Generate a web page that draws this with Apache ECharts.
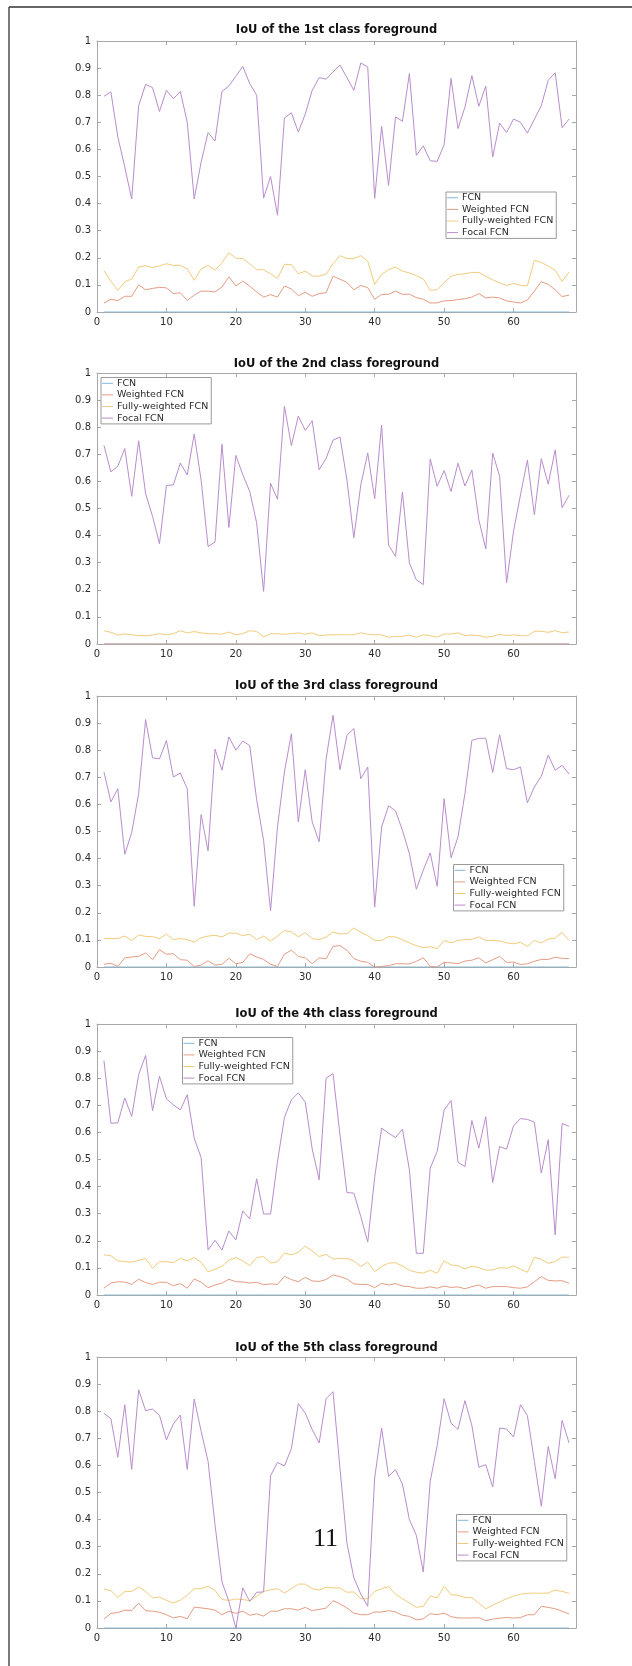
<!DOCTYPE html>
<html>
<head>
<meta charset="utf-8">
<script src="https://cdn.jsdelivr.net/npm/echarts@6/dist/echarts.min.js"></script>
<style>
html,body{margin:0;padding:0;background:#fff;}
#chart{width:632px;height:1666px;}
</style>
</head>
<body>
<div id="chart"></div>
<script>
// image index (x values)
const imageIdx = [1,2,3,4,5,6,7,8,9,10,11,12,13,14,15,16,17,18,19,20,21,22,23,24,25,26,27,28,29,30,31,32,33,34,35,36,37,38,39,40,41,42,43,44,45,46,47,48,49,50,51,52,53,54,55,56,57,58,59,60,61,62,63,64,65,66,67,68];
const seriesNames = ['FCN','Weighted FCN','Fully-weighted FCN','Focal FCN'];
const panelTitles = ['IoU of the 1st class foreground','IoU of the 2nd class foreground','IoU of the 3rd class foreground','IoU of the 4th class foreground','IoU of the 5th class foreground'];
const xTicks = [0,10,20,30,40,50,60];
const yTicks = [0,0.1,0.2,0.3,0.4,0.5,0.6,0.7,0.8,0.9,1];
const pageNumber = '11';

// FCN is zero in every panel
const fcnAll = [0,0,0,0,0,0,0,0,0,0,0,0,0,0,0,0,0,0,0,0,0,0,0,0,0,0,0,0,0,0,0,0,0,0,0,0,0,0,0,0,0,0,0,0,0,0,0,0,0,0,0,0,0,0,0,0,0,0,0,0,0,0,0,0,0,0,0,0];

// Panel 1
const weighted1 = [0.033,0.047,0.042,0.058,0.058,0.10,0.082,0.087,0.091,0.089,0.068,0.071,0.043,0.062,0.077,0.077,0.074,0.092,0.13,0.096,0.114,0.095,0.074,0.055,0.064,0.055,0.096,0.085,0.06,0.073,0.058,0.068,0.071,0.132,0.121,0.109,0.082,0.098,0.09,0.047,0.065,0.065,0.077,0.065,0.066,0.053,0.047,0.033,0.034,0.041,0.042,0.046,0.049,0.055,0.068,0.052,0.055,0.052,0.041,0.037,0.033,0.044,0.077,0.112,0.102,0.082,0.057,0.062];
const fully1 = [0.153,0.114,0.08,0.111,0.122,0.166,0.171,0.164,0.17,0.178,0.172,0.172,0.159,0.117,0.159,0.172,0.154,0.182,0.218,0.199,0.197,0.178,0.156,0.156,0.141,0.124,0.176,0.175,0.141,0.151,0.133,0.132,0.14,0.178,0.208,0.197,0.197,0.208,0.187,0.102,0.139,0.156,0.166,0.151,0.144,0.134,0.122,0.08,0.082,0.108,0.132,0.139,0.141,0.146,0.146,0.132,0.119,0.107,0.098,0.105,0.098,0.097,0.191,0.183,0.169,0.154,0.113,0.148];
const focal1 = [0.796,0.812,0.646,0.535,0.417,0.761,0.84,0.828,0.74,0.818,0.787,0.814,0.70,0.417,0.553,0.662,0.631,0.814,0.834,0.87,0.906,0.843,0.80,0.42,0.50,0.357,0.716,0.735,0.664,0.73,0.818,0.865,0.859,0.886,0.911,0.865,0.818,0.919,0.904,0.419,0.685,0.467,0.72,0.704,0.88,0.578,0.613,0.558,0.556,0.617,0.862,0.677,0.756,0.872,0.759,0.834,0.572,0.697,0.662,0.712,0.70,0.66,0.711,0.761,0.855,0.883,0.68,0.712];

// Panel 2
const weighted2 = [0,0,0,0,0,0,0,0,0,0,0,0,0,0,0,0,0,0,0,0,0,0,0,0,0,0,0,0,0,0,0,0,0,0,0,0,0,0,0,0,0,0,0,0,0,0,0,0,0,0,0,0,0,0,0,0,0,0,0,0,0,0,0,0,0,0,0,0];
const fully2 = [0.049,0.043,0.033,0.037,0.034,0.031,0.031,0.033,0.038,0.034,0.038,0.049,0.041,0.046,0.041,0.038,0.038,0.036,0.044,0.034,0.038,0.049,0.046,0.026,0.038,0.038,0.036,0.038,0.041,0.036,0.041,0.031,0.033,0.034,0.034,0.034,0.034,0.041,0.036,0.034,0.034,0.025,0.028,0.028,0.033,0.025,0.034,0.031,0.025,0.037,0.037,0.041,0.031,0.033,0.031,0.025,0.028,0.036,0.031,0.034,0.031,0.03,0.047,0.047,0.043,0.049,0.042,0.044];
const focal2 = [0.733,0.635,0.656,0.721,0.545,0.75,0.555,0.471,0.37,0.585,0.587,0.668,0.624,0.775,0.604,0.36,0.376,0.737,0.43,0.696,0.625,0.563,0.447,0.194,0.593,0.534,0.877,0.732,0.841,0.788,0.824,0.643,0.685,0.752,0.764,0.606,0.392,0.587,0.705,0.536,0.808,0.365,0.323,0.561,0.299,0.237,0.219,0.683,0.582,0.64,0.563,0.667,0.583,0.642,0.459,0.351,0.704,0.619,0.225,0.416,0.55,0.678,0.477,0.684,0.59,0.716,0.503,0.549];

// Panel 3
const weighted3 = [0.01,0.014,0.002,0.034,0.037,0.039,0.052,0.027,0.064,0.047,0.049,0.027,0.025,0.002,0.007,0.023,0.007,0.01,0.032,0.012,0.017,0.049,0.037,0.028,0.01,0.002,0.047,0.062,0.039,0.034,0.012,0.034,0.03,0.076,0.079,0.062,0.031,0.021,0.017,0.0,0.002,0.005,0.012,0.012,0.011,0.021,0.034,0.002,0.0,0.017,0.015,0.012,0.022,0.025,0.034,0.015,0.027,0.039,0.017,0.018,0.009,0.012,0.021,0.028,0.028,0.036,0.032,0.031];
const fully3 = [0.105,0.105,0.105,0.114,0.098,0.118,0.113,0.112,0.105,0.121,0.101,0.105,0.101,0.092,0.108,0.114,0.117,0.111,0.125,0.125,0.116,0.121,0.101,0.114,0.096,0.114,0.135,0.129,0.111,0.127,0.105,0.101,0.111,0.129,0.122,0.123,0.144,0.128,0.116,0.098,0.098,0.112,0.111,0.101,0.089,0.079,0.071,0.075,0.068,0.098,0.089,0.098,0.101,0.102,0.111,0.098,0.098,0.096,0.089,0.086,0.091,0.076,0.098,0.089,0.103,0.107,0.128,0.098];
const focal3 = [0.72,0.609,0.658,0.416,0.496,0.64,0.913,0.772,0.768,0.836,0.701,0.716,0.658,0.224,0.562,0.428,0.804,0.726,0.849,0.80,0.834,0.817,0.617,0.467,0.207,0.517,0.72,0.861,0.535,0.728,0.535,0.462,0.767,0.929,0.728,0.855,0.88,0.695,0.738,0.221,0.517,0.595,0.576,0.504,0.418,0.287,0.357,0.421,0.298,0.621,0.403,0.48,0.64,0.836,0.844,0.844,0.718,0.857,0.732,0.728,0.738,0.606,0.664,0.704,0.782,0.726,0.744,0.712];

// Panel 4
const weighted4 = [0.025,0.044,0.049,0.048,0.039,0.058,0.046,0.039,0.047,0.047,0.034,0.042,0.025,0.059,0.047,0.027,0.037,0.044,0.058,0.049,0.048,0.044,0.047,0.038,0.041,0.039,0.069,0.057,0.049,0.065,0.052,0.05,0.057,0.074,0.068,0.059,0.041,0.039,0.039,0.027,0.043,0.037,0.042,0.033,0.031,0.025,0.025,0.03,0.025,0.033,0.028,0.03,0.023,0.031,0.037,0.025,0.031,0.031,0.031,0.027,0.025,0.03,0.049,0.068,0.054,0.052,0.053,0.043];
const fully4 = [0.148,0.145,0.126,0.123,0.121,0.128,0.135,0.099,0.123,0.123,0.119,0.135,0.126,0.138,0.121,0.086,0.095,0.106,0.128,0.138,0.126,0.108,0.138,0.142,0.118,0.123,0.155,0.148,0.158,0.18,0.163,0.142,0.15,0.133,0.135,0.135,0.126,0.105,0.121,0.086,0.105,0.118,0.119,0.107,0.091,0.084,0.081,0.091,0.08,0.126,0.111,0.108,0.096,0.106,0.101,0.092,0.092,0.101,0.099,0.107,0.095,0.084,0.139,0.132,0.117,0.123,0.14,0.139];
const focal4 = [0.865,0.634,0.635,0.727,0.659,0.813,0.884,0.68,0.807,0.724,0.702,0.683,0.739,0.579,0.507,0.166,0.202,0.166,0.236,0.203,0.31,0.281,0.429,0.299,0.299,0.493,0.655,0.72,0.746,0.712,0.539,0.425,0.80,0.817,0.591,0.378,0.376,0.289,0.195,0.434,0.616,0.597,0.581,0.612,0.462,0.154,0.154,0.468,0.53,0.682,0.718,0.49,0.474,0.644,0.542,0.658,0.415,0.548,0.538,0.624,0.651,0.648,0.638,0.45,0.573,0.222,0.633,0.622];

// Panel 5
const weighted5 = [0.033,0.054,0.057,0.066,0.064,0.092,0.064,0.062,0.058,0.049,0.037,0.043,0.034,0.077,0.074,0.071,0.066,0.049,0.062,0.054,0.062,0.047,0.052,0.044,0.062,0.062,0.071,0.071,0.066,0.076,0.064,0.069,0.073,0.101,0.089,0.074,0.055,0.049,0.049,0.059,0.059,0.064,0.059,0.047,0.043,0.03,0.034,0.053,0.049,0.055,0.042,0.037,0.037,0.037,0.038,0.027,0.033,0.036,0.039,0.037,0.038,0.049,0.049,0.08,0.076,0.071,0.062,0.052];
const fully5 = [0.144,0.138,0.113,0.135,0.135,0.151,0.135,0.111,0.114,0.102,0.092,0.103,0.121,0.145,0.145,0.154,0.138,0.105,0.102,0.107,0.105,0.101,0.117,0.135,0.141,0.145,0.129,0.145,0.162,0.162,0.145,0.14,0.15,0.148,0.148,0.132,0.133,0.108,0.108,0.135,0.145,0.153,0.125,0.108,0.092,0.076,0.08,0.118,0.111,0.154,0.123,0.121,0.113,0.111,0.092,0.071,0.084,0.096,0.108,0.117,0.125,0.128,0.129,0.128,0.129,0.14,0.135,0.128];
const focal5 = [0.792,0.772,0.63,0.824,0.585,0.879,0.802,0.808,0.785,0.694,0.753,0.786,0.585,0.845,0.726,0.615,0.381,0.17,0.098,0.0,0.148,0.098,0.132,0.133,0.562,0.611,0.598,0.662,0.828,0.793,0.732,0.683,0.846,0.872,0.59,0.314,0.185,0.125,0.08,0.554,0.738,0.56,0.584,0.531,0.40,0.342,0.207,0.541,0.673,0.846,0.756,0.733,0.839,0.747,0.593,0.603,0.52,0.738,0.734,0.705,0.824,0.784,0.615,0.449,0.67,0.551,0.766,0.683];

const panels = [
  [fcnAll, weighted1, fully1, focal1],
  [fcnAll, weighted2, fully2, focal2],
  [fcnAll, weighted3, fully3, focal3],
  [fcnAll, weighted4, fully4, focal4],
  [fcnAll, weighted5, fully5, focal5]
];

// Layout
const seriesColors = ['#7fb9da', '#e49c84', '#f1cc7c', '#b98dcc'];
const gridLeft = 97, gridWidth = 479, gridHeight = 271;
const gridTops = [41, 373, 696, 1024, 1357];
const titleCenters = [30.5, 364, 686, 1014.5, 1348];
const legendPos = [[446, 192], [101, 377.5], [453.5, 864.5], [182.5, 1037.5], [456.5, 1514.5]];
const FONT = 'DejaVu Sans';
const axisGray = '#a8a8a8';
const textDark = '#2b2b2b';

const option = {
  animation: false,
  backgroundColor: '#ffffff',
  title: [], grid: [], xAxis: [], yAxis: [], series: [], legend: [],
  graphic: []
};

panels.forEach((data, p) => {
  option.grid.push({left: gridLeft, top: gridTops[p], width: gridWidth, height: gridHeight, containLabel: false});
  option.title.push({
    text: panelTitles[p], left: gridLeft + gridWidth / 2, top: titleCenters[p] - 7, textAlign: 'center', padding: 0,
    textStyle: {fontFamily: FONT, fontSize: 11.5, fontWeight: 'bold', color: '#111', lineHeight: 14}
  });
  const xi = option.xAxis.length, yi = option.yAxis.length;
  // bottom x axis
  option.xAxis.push({
    type: 'value', gridIndex: p, position: 'bottom', min: 0, max: 69, interval: 10,
    axisLine: {show: true, onZero: false, lineStyle: {color: axisGray, width: 1}},
    axisTick: {show: true, inside: true, length: 4, lineStyle: {color: axisGray}},
    axisLabel: {show: true, margin: 5, fontFamily: FONT, fontSize: 10, color: textDark, showMaxLabel: false,
      formatter: v => xTicks.indexOf(v) >= 0 ? String(v) : ''},
    splitLine: {show: false}
  });
  // top x axis (box)
  option.xAxis.push({
    type: 'value', gridIndex: p, position: 'top', min: 0, max: 69, interval: 10,
    axisLine: {show: true, onZero: false, lineStyle: {color: axisGray, width: 1}},
    axisTick: {show: true, inside: true, length: 4, lineStyle: {color: axisGray}},
    axisLabel: {show: false}, splitLine: {show: false}
  });
  option.yAxis.push({
    type: 'value', gridIndex: p, position: 'left', min: 0, max: 1, interval: 0.1,
    axisLine: {show: true, onZero: false, lineStyle: {color: axisGray, width: 1}},
    axisTick: {show: true, inside: true, length: 4, lineStyle: {color: axisGray}},
    axisLabel: {show: true, margin: 6, fontFamily: FONT, fontSize: 10, color: textDark,
      formatter: v => { const t = yTicks.find(k => Math.abs(k - v) < 1e-9); return t === undefined ? '' : String(t); }},
    splitLine: {show: false}
  });
  option.yAxis.push({
    type: 'value', gridIndex: p, position: 'right', min: 0, max: 1, interval: 0.1,
    axisLine: {show: true, onZero: false, lineStyle: {color: axisGray, width: 1}},
    axisTick: {show: true, inside: true, length: 4, lineStyle: {color: axisGray}},
    axisLabel: {show: false}, splitLine: {show: false}
  });
  data.forEach((vals, s) => {
    option.series.push({
      type: 'line', name: seriesNames[s], xAxisIndex: xi, yAxisIndex: yi,
      data: imageIdx.map((x, k) => [x, vals[k]]),
      symbol: 'none', showSymbol: false, clip: true, z: 2 + s,
      color: seriesColors[s],
      itemStyle: {color: seriesColors[s]},
      lineStyle: {color: seriesColors[s], width: 1}
    });
  });
  option.legend.push({
    data: seriesNames, orient: 'vertical', left: legendPos[p][0], top: legendPos[p][1],
    padding: [0, 3, 0, 1], itemGap: 0, itemWidth: 11, itemHeight: 1, icon: 'rect',
    backgroundColor: '#ffffff', borderColor: '#9a9a9a', borderWidth: 1, borderRadius: 0,
    selectedMode: false,
    textStyle: {fontFamily: FONT, fontSize: 9.5, color: textDark, lineHeight: 11.6, padding: [0,0,0,-1]}
  });
});

// page frame (top & left rules) and page number
option.graphic.push({type: 'line', silent: true, shape: {x1: 9, y1: 7, x2: 632, y2: 7}, style: {stroke: '#333', lineWidth: 1.3}});
option.graphic.push({type: 'line', silent: true, shape: {x1: 9, y1: 7, x2: 9, y2: 1666}, style: {stroke: '#333', lineWidth: 1.3}});
option.graphic.push({type: 'text', silent: true, x: 325.5, y: 1539, z: 100,
  style: {text: pageNumber, fontFamily: 'Liberation Serif', fontSize: 26, fill: '#111', textAlign: 'center', textVerticalAlign: 'middle'}});

const chart = echarts.init(document.getElementById('chart'), null, {renderer: 'canvas'});
chart.setOption(option);
</script>
</body>
</html>
